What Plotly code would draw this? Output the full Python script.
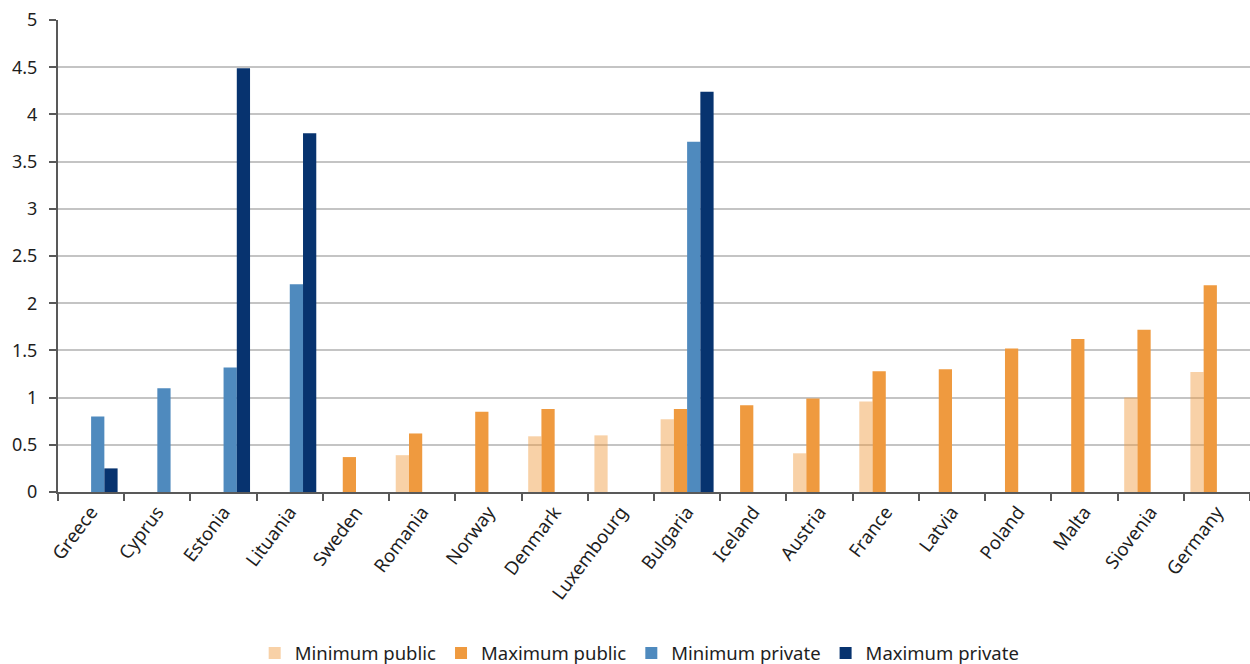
import plotly.graph_objects as go

countries = ["Greece", "Cyprus", "Estonia", "Lituania", "Sweden", "Romania", "Norway",
             "Denmark", "Luxembourg", "Bulgaria", "Iceland", "Austria", "France", "Latvia",
             "Poland", "Malta", "Siovenia", "Germany"]

min_public = [None, None, None, None, None, 0.39, None, 0.59, 0.60, 0.77, None, 0.41,
              0.96, None, None, None, 1.00, 1.27]
max_public = [None, None, None, None, 0.37, 0.62, 0.85, 0.88, None, 0.88, 0.92, 0.99,
              1.28, 1.30, 1.52, 1.62, 1.72, 2.19]
min_private = [0.80, 1.10, 1.32, 2.20, None, None, None, None, None, 3.71, None, None,
               None, None, None, None, None, None]
max_private = [0.25, None, 4.49, 3.80, None, None, None, None, None, 4.24, None, None,
               None, None, None, None, None, None]

y_ticks = [0, 0.5, 1, 1.5, 2, 2.5, 3, 3.5, 4, 4.5, 5]
y_tick_text = ["0", "0.5", "1", "1.5", "2", "2.5", "3", "3.5", "4", "4.5", "5"]

series = [
    ("Minimum public", min_public, "rgba(240,154,63,0.46)"),
    ("Maximum public", max_public, "#EF9A3F"),
    ("Minimum private", min_private, "#4F8ABE"),
    ("Maximum private", max_private, "#07336F"),
]

fig = go.Figure()
for name, vals, color in series:
    fig.add_trace(go.Bar(
        name=name, x=countries, y=vals,
        marker=dict(color=color, line=dict(width=0)),
    ))

font_family = "Noto Sans, Open Sans, sans-serif"
text_color = "#1E1E1E"

fig.update_layout(
    width=1250, height=664,
    barmode="group", bargap=0.2, bargroupgap=0,
    plot_bgcolor="white", paper_bgcolor="white",
    margin=dict(l=58, r=0, t=20, b=172, autoexpand=False),
    font=dict(family=font_family, size=18, color=text_color),
    legend=dict(
        orientation="h", x=0.488, xanchor="center", y=-0.342, yanchor="middle",
        font=dict(size=18.5, color=text_color), traceorder="normal",
        itemwidth=30,
    ),
    xaxis=dict(
        tickangle=-53, tickson="boundaries", ticks="outside", ticklen=7,
        tickcolor="#595959", tickwidth=1.5, automargin=False,
        showline=True, linecolor="#595959", linewidth=2,
        tickfont=dict(size=18.5, color=text_color),
        showgrid=False,
    ),
    yaxis=dict(
        range=[0, 5], tickvals=y_ticks, ticktext=y_tick_text,
        ticks="outside", ticklen=7, tickcolor="#595959", tickwidth=1.5,
        ticklabelstandoff=8, automargin=False,
        showline=True, linecolor="#595959", linewidth=2,
        showgrid=True, gridcolor="#C4C4C4", gridwidth=1.5,
        zeroline=False, tickfont=dict(size=18, color=text_color),
    ),
)

fig.write_html("out.html")
